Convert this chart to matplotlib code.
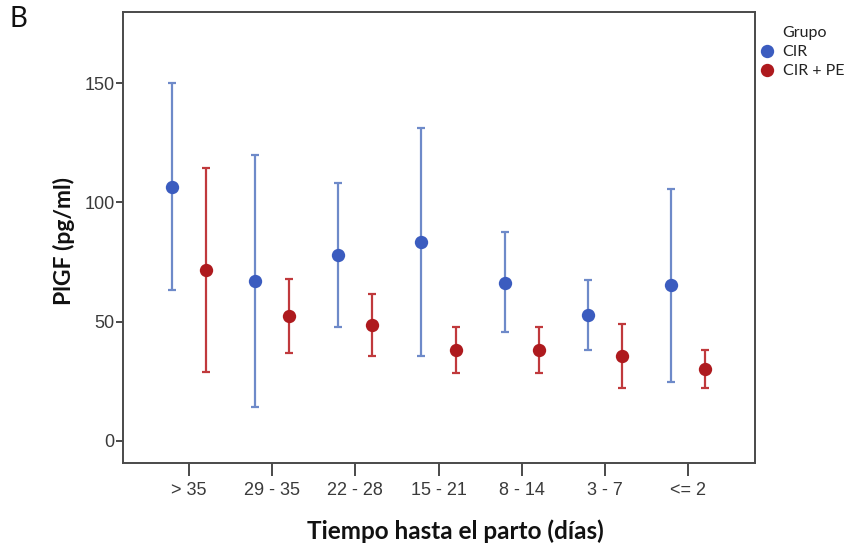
import matplotlib
matplotlib.use("Agg")
import matplotlib.pyplot as plt
from matplotlib.lines import Line2D
import numpy as np

categories = ["> 35", "29 - 35", "22 - 28", "15 - 21", "8 - 14", "3 - 7", "<= 2"]

cir_mean = [106.4, 67.0, 78.0, 83.3, 66.3, 52.6, 65.2]
cir_low = [63.1, 14.2, 47.7, 35.7, 45.5, 37.9, 24.6]
cir_high = [150.0, 119.8, 108.2, 131.3, 87.4, 67.3, 105.7]

pe_mean = [71.8, 52.3, 48.7, 37.9, 37.9, 35.4, 30.0]
pe_low = [28.8, 36.8, 35.5, 28.2, 28.2, 22.1, 22.3]
pe_high = [114.5, 67.7, 61.7, 47.6, 47.7, 49.1, 37.9]

yticks = [0, 50, 100, 150]

blue_dot = "#3b5cbf"
blue_bar = "#6e8ac9"
red_dot = "#ae1a1e"
red_bar = "#c0393c"
axis_col = "#4a4a4a"

fig = plt.figure(figsize=(8.58, 5.5), dpi=100)
ax = fig.add_axes([123/858, 1-463/550, (755-123)/858, (463-12)/550])

x = np.arange(len(categories))
off = 0.205

def draw(xpos, mean, low, high, dc, bc):
    mean = np.array(mean); low = np.array(low); high = np.array(high)
    yerr = np.vstack([mean - low, high - mean])
    ax.errorbar(xpos, mean, yerr=yerr, fmt="none", ecolor=bc, elinewidth=1.6,
                capsize=3.2, capthick=1.6, zorder=2)
    ax.plot(xpos, mean, "o", color=dc, markersize=9.6, markeredgewidth=0, zorder=3)

draw(x - off, cir_mean, cir_low, cir_high, blue_dot, blue_bar)
draw(x + off, pe_mean, pe_low, pe_high, red_dot, red_bar)

ax.set_xlim(-0.793, 6.805)
ax.set_ylim(-9.4, 180)
ax.set_xticks(x)
ax.set_xticklabels(categories)
ax.set_yticks(yticks)

for lab in ax.get_xticklabels() + ax.get_yticklabels():
    lab.set_fontfamily("Liberation Sans")
    lab.set_fontsize(13)
    lab.set_color("#3a3a3a")

for s in ax.spines.values():
    s.set_color(axis_col)
    s.set_linewidth(1.4)

ax.tick_params(axis="x", length=9.5, width=1.4, color=axis_col, pad=4)
ax.tick_params(axis="y", length=5, width=1.4, color=axis_col, pad=1)

fig.text(455/858, 1-531/550, "Tiempo hasta el parto (días)", ha="center", va="center",
         fontsize=17.5, fontweight="bold", family="Lato", color="#111111")
fig.text(64/858, 1-241/550, "PlGF (pg/ml)", ha="center", va="center", rotation=90,
         fontsize=16.5, fontweight="bold", family="Lato", color="#111111")
fig.text(9/858, 1-19/550, "B", ha="left", va="center", fontsize=20, family="Lato",
         color="#111111")

handles = [Line2D([], [], linestyle="none"),
           Line2D([], [], linestyle="none", marker="o", color=blue_dot, markersize=9.6, markeredgewidth=0),
           Line2D([], [], linestyle="none", marker="o", color=red_dot, markersize=9.6, markeredgewidth=0)]
labels = ["Grupo", "CIR", "CIR + PE"]
leg = fig.legend(handles, labels, loc="upper left", bbox_to_anchor=(761/858, 1-26/550),
                 frameon=False, prop=dict(family="Lato", size=11.5), handlelength=0.8,
                 handletextpad=0.55, labelspacing=0.3, borderaxespad=0, borderpad=0)
for t in leg.get_texts():
    t.set_color("#222222")

fig.savefig("out.png", dpi=100)
